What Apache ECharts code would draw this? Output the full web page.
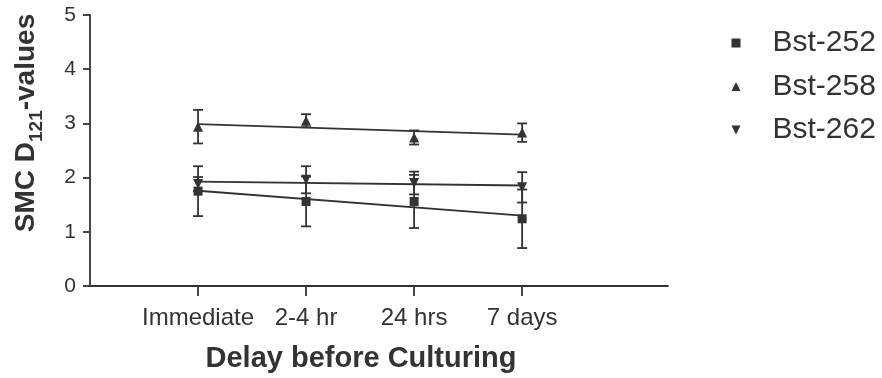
<!DOCTYPE html>
<html>
<head>
<meta charset="utf-8">
<script src="https://cdn.jsdelivr.net/npm/echarts@6/dist/echarts.min.js"></script>
<style>
  html, body { margin: 0; padding: 0; background: #fff; }
  #chart { width: 882px; height: 378px; }
</style>
</head>
<body>
<div id="chart"></div>
<script>
// Delay categories (placed at x = 1..4 on the axis)
const categories = ['Immediate', '2-4 hr', '24 hrs', '7 days'];
const seriesNames = ['Bst-252', 'Bst-258', 'Bst-262'];

// Mean SMC D121 values per delay, with error half-widths
const bst252 = [1.75, 1.56, 1.56, 1.24];
const bst252Err = [0.46, 0.46, 0.49, 0.54];
const bst258 = [2.94, 3.05, 2.74, 2.83];
const bst258Err = [0.31, 0.12, 0.13, 0.17];
const bst262 = [1.88, 1.96, 1.90, 1.82];
const bst262Err = [0.13, 0.25, 0.21, 0.28];

const yTicks = [0, 1, 2, 3, 4, 5];

const INK = '#333';
const FONT = "'Liberation Sans', Arial, Helvetica, sans-serif";
const DOWN_TRIANGLE = 'path://M0,0L10,0L5,10Z';

// Least-squares straight line through the means, drawn across the delays
function fitLine(values) {
  const xs = values.map((_, i) => i + 1);
  const n = values.length;
  const mx = xs.reduce((a, b) => a + b, 0) / n;
  const my = values.reduce((a, b) => a + b, 0) / n;
  let sxy = 0, sxx = 0;
  xs.forEach((x, i) => { sxy += (x - mx) * (values[i] - my); sxx += (x - mx) * (x - mx); });
  const slope = sxy / sxx;
  return [[xs[0], my + slope * (xs[0] - mx)], [xs[n - 1], my + slope * (xs[n - 1] - mx)]];
}

function points(values) { return values.map((v, i) => [i + 1, v]); }
function errPoints(values, errs) { return values.map((v, i) => [i + 1, v, errs[i]]); }

function renderErrorBar(params, api) {
  const x = api.value(0), m = api.value(1), e = api.value(2);
  const hi = api.coord([x, m + e]);
  const lo = api.coord([x, m - e]);
  const cap = 5;
  const style = { stroke: INK, lineWidth: 1.8 };
  return {
    type: 'group',
    children: [
      { type: 'line', shape: { x1: hi[0], y1: hi[1], x2: lo[0], y2: lo[1] }, style },
      { type: 'line', shape: { x1: hi[0] - cap, y1: hi[1], x2: hi[0] + cap, y2: hi[1] }, style },
      { type: 'line', shape: { x1: lo[0] - cap, y1: lo[1], x2: lo[0] + cap, y2: lo[1] }, style }
    ]
  };
}

const groups = [
  { name: seriesNames[0], vals: bst252, errs: bst252Err, symbol: 'rect', size: 9 },
  { name: seriesNames[1], vals: bst258, errs: bst258Err, symbol: 'triangle', size: 10 },
  { name: seriesNames[2], vals: bst262, errs: bst262Err, symbol: DOWN_TRIANGLE, size: 10 }
];

const series = [];
groups.forEach(g => {
  series.push({
    type: 'line', data: fitLine(g.vals), symbol: 'none', silent: true, z: 2,
    lineStyle: { color: INK, width: 1.8 }, animation: false
  });
  series.push({
    type: 'custom', data: errPoints(g.vals, g.errs), renderItem: renderErrorBar, z: 3,
    silent: true, animation: false
  });
  series.push({
    name: g.name, type: 'scatter', data: points(g.vals), symbol: g.symbol,
    symbolSize: g.size, z: 4,
    itemStyle: { color: INK, opacity: 1 }, animation: false
  });
});

// Y-axis title with a subscript, laid out piece by piece in a rotated group
function measure(text, font) {
  const ctx = document.createElement('canvas').getContext('2d');
  ctx.font = font;
  return ctx.measureText(text).width;
}
const titleMainFont = 'bold 28px ' + FONT;
const titleSubFont = 'bold 19px ' + FONT;
const yTitleParts = [
  { text: 'SMC D', font: titleMainFont, dy: 0 },
  { text: '121', font: titleSubFont, dy: 11 },
  { text: '-values', font: titleMainFont, dy: 0 }
];
const partWidths = yTitleParts.map(p => measure(p.text, p.font));
const totalWidth = partWidths.reduce((a, b) => a + b, 0);
let cursor = -totalWidth / 2;
const yTitleChildren = yTitleParts.map((p, i) => {
  const el = {
    type: 'text', x: cursor, y: p.dy,
    style: { text: p.text, font: p.font, fill: INK, align: 'left', verticalAlign: 'middle' }
  };
  cursor += partWidths[i];
  return el;
});

const chart = echarts.init(document.getElementById('chart'), null, { renderer: 'canvas' });
chart.setOption({
  backgroundColor: '#fff',
  animation: false,
  textStyle: { fontFamily: FONT },
  grid: { left: 90, right: 214, top: 15, bottom: 92, containLabel: false },
  xAxis: {
    type: 'value', min: 0, max: 5.35,
    axisLine: { show: true, lineStyle: { color: INK, width: 1.8 } },
    axisTick: { show: true, customValues: [1, 2, 3, 4], length: 10, lineStyle: { color: INK, width: 1.8 } },
    axisLabel: {
      customValues: [1, 2, 3, 4], margin: 20,
      formatter: v => categories[Math.round(v) - 1] || '',
      color: INK, fontSize: 24, fontFamily: FONT
    },
    splitLine: { show: false }
  },
  yAxis: {
    type: 'value', min: yTicks[0], max: yTicks[yTicks.length - 1], interval: 1,
    axisLine: { show: true, lineStyle: { color: INK, width: 1.8 } },
    axisTick: { show: true, length: 7, lineStyle: { color: INK, width: 1.8 } },
    axisLabel: { color: INK, fontSize: 21, margin: 14, fontFamily: FONT },
    splitLine: { show: false }
  },
  legend: {
    orient: 'vertical', left: 726.5, top: 23, itemGap: 13.5,
    itemWidth: 9, itemHeight: 9,
    data: [
      { name: seriesNames[0], icon: 'rect' },
      { name: seriesNames[1], icon: 'triangle' },
      { name: seriesNames[2], icon: DOWN_TRIANGLE }
    ],
    textStyle: { color: INK, fontSize: 30, lineHeight: 30, fontFamily: FONT, padding: [0, 0, 0, 27] },
    selectedMode: false
  },
  graphic: [
    {
      type: 'text', x: 361, y: 358.5,
      style: {
        text: 'Delay before Culturing', fill: INK, font: 'bold 29px ' + FONT,
        align: 'center', verticalAlign: 'middle'
      }
    },
    {
      type: 'group', x: 26, y: 123, rotation: Math.PI / 2,
      children: yTitleChildren
    }
  ],
  series
});
</script>
</body>
</html>
